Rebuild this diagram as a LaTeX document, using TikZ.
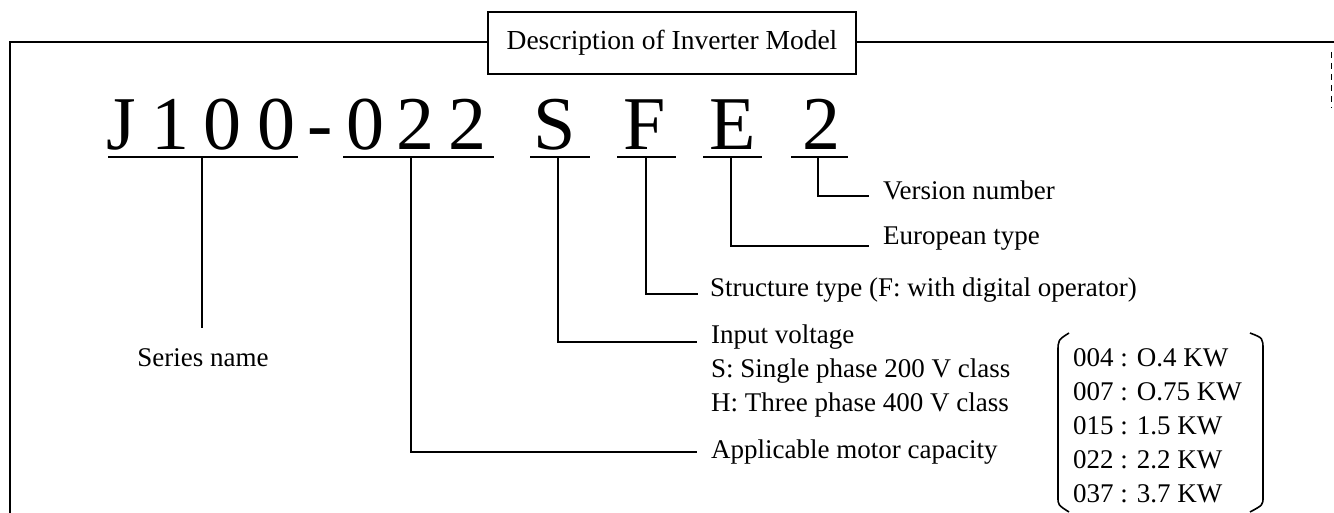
\documentclass[tikz,border=0pt]{standalone}
\usepackage{fontspec}
\setmainfont{Liberation Serif}
\begin{document}
\begin{tikzpicture}[x=1pt,y=-1pt,
  lbl/.style={anchor=base west,inner sep=0pt,font=\fontsize{27}{32}\selectfont},
  big/.style={anchor=base,inner sep=0pt,font=\fontsize{76}{80}\selectfont},
  conn/.style={line width=1.4pt},
  uline/.style={line width=1.6pt},
  frame/.style={line width=2pt}]
\useasboundingbox (0,0) rectangle (1334,513);
% frame and title
\node[draw,line width=1.5pt,minimum width=368pt,minimum height=62pt,inner sep=0pt,
      font=\fontsize{27.5}{32}\selectfont] (title) at (672,43) {Description of Inverter Model};
\coordinate (fbl) at (10,513);
\coordinate (ftl) at (10,42);
\coordinate (ftr) at (1334,42);
\draw[frame] (fbl) -- (ftl) -- (ftl -| title.west);
\draw[frame] (ftr -| title.east) -- (ftr);
\coordinate (re1) at (1331,52);
\coordinate (re2) at (1331,108);
\draw[line width=1pt,dash pattern=on 6pt off 5pt] (re1) -- (re2);
% big model code
\node[big] (cJ) at (121,150) {J};
\node[big] (c1) at (170,150) {1};
\node[big] (c0a) at (222,150) {0};
\node[big] (c0b) at (276,150) {0};
\node[big] (cd) at (320,150) {-};
\node[big] (c0c) at (365,150) {0};
\node[big] (c2a) at (415,150) {2};
\node[big] (c2b) at (467,150) {2};
\node[big] (cS) at (555,150) {S};
\node[big] (cF) at (645,150) {F};
\node[big] (cE) at (733,150) {E};
\node[big] (c2c) at (821,150) {2};
% underlines
\coordinate (uJa) at (108,157); \coordinate (uJb) at (298,157);
\coordinate (uNa) at (343,157); \coordinate (uNb) at (494,157);
\coordinate (uSa) at (530,157); \coordinate (uSb) at (590,157);
\coordinate (uFa) at (617,157); \coordinate (uFb) at (676,157);
\coordinate (uEa) at (703,157); \coordinate (uEb) at (762,157);
\coordinate (uVa) at (791,157); \coordinate (uVb) at (848,157);
\draw[line width=2.4pt] (uJa) -- (250,157);
\draw[uline] (uJa) -- (uJb);
\draw[uline] (uNa) -- (uNb);
\draw[uline] (uSa) -- (uSb);
\draw[uline] (uFa) -- (uFb);
\draw[uline] (uEa) -- (uEb);
\draw[uline] (uVa) -- (uVb);
% labels
\node[lbl] (ver) at (883,200) {Version number};
\node[lbl] (eur) at (883,245) {European type};
\node[lbl] (str) at (710,296) {Structure type (F: with digital operator)};
\node[lbl] (inp) at (711,343) {Input voltage};
\node[lbl] (inS) at (711,377) {S: Single phase 200 V class};
\node[lbl] (inH) at (711,411) {H: Three phase 400 V class};
\node[lbl] (app) at (711,458) {Applicable motor capacity};
\node[anchor=base,inner sep=0pt,font=\fontsize{27}{32}\selectfont] (ser) at (203,366) {Series name};
% connectors
\coordinate (tJ) at (202,157);
\coordinate (tN) at (411,157);
\coordinate (tS) at (558,157);
\coordinate (tF) at (646,157);
\coordinate (tE) at (731,157);
\coordinate (tV) at (818,157);
\coordinate (eJ) at (202,328);
\coordinate (eN) at (697,452);
\coordinate (eS) at (697,342);
\coordinate (eF) at (698,294);
\coordinate (eE) at (869,246);
\coordinate (eV) at (869,196);
\draw[conn] (tJ) -- (eJ);
\draw[conn] (tN) |- (eN);
\draw[conn] (tS) |- (eS);
\draw[conn] (tF) |- (eF);
\draw[conn] (tE) |- (eE);
\draw[conn] (tV) |- (eV);
% capacity list
\node[lbl] (k1) at (1073,366) {004 : O.4 KW};
\node[lbl] (k2) at (1073,400) {007 : O.75 KW};
\node[lbl] (k3) at (1073,434) {015 : 1.5 KW};
\node[lbl] (k4) at (1073,468) {022 : 2.2 KW};
\node[lbl] (k5) at (1073,502) {037 : 3.7 KW};
\draw[line width=1.6pt] (1069,333) .. controls (1058,340) .. (1058,352) -- (1058,497) .. controls (1058,505) .. (1069,512);
\draw[line width=1.6pt] (1250,333) .. controls (1263,338) .. (1263,350) -- (1263,497) .. controls (1263,505) .. (1250,512);
\end{tikzpicture}
\end{document}
